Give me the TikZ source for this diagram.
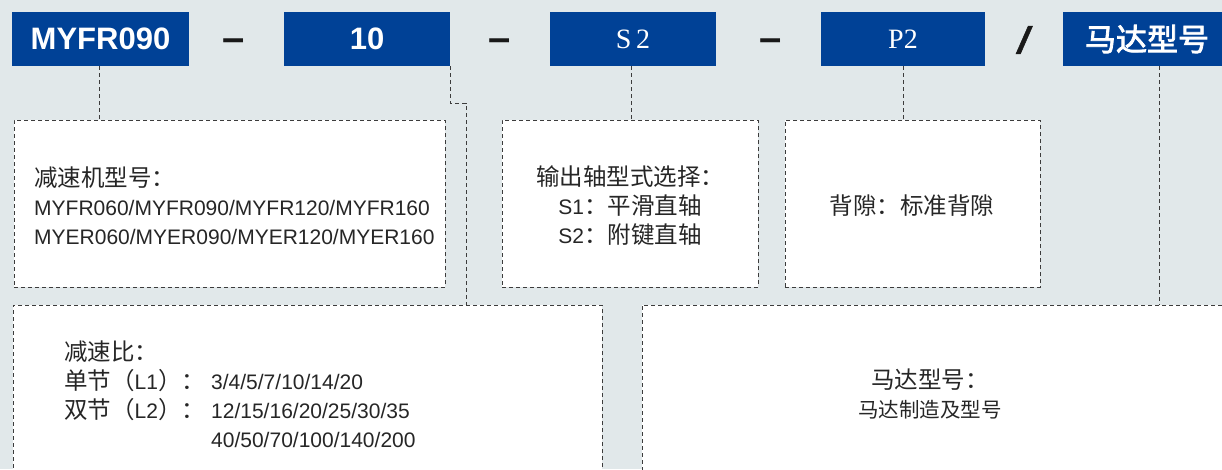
\documentclass[tikz,border=0pt]{standalone}
\usepackage{fontspec}
\setmainfont{Liberation Sans}
\newfontfamily\cjk[AutoFakeBold=2.5]{Noto Sans CJK SC}
\newfontfamily\romfont{Liberation Serif}
\newfontfamily\slashfont[BoldFeatures={FakeSlant=0.25, FakeBold=1.5}]{Liberation Sans}
\newcommand{\zh}[1]{{\cjk\fontsize{23.5}{29}\selectfont #1}}

\definecolor{bgcol}{RGB}{225,232,234}
\definecolor{codeblue}{RGB}{0,65,150}
\definecolor{lncol}{RGB}{60,60,60}

\tikzset{
	codebox/.style={fill=codeblue, text=white, minimum height=54pt, inner sep=0pt, font=\bfseries\fontsize{31}{32}\selectfont},
	sepmark/.style={inner sep=0pt, text=black!90, font=\bfseries\fontsize{40}{40}\selectfont},
	panel/.style={draw=lncol, fill=white, line width=0.8pt, dash pattern=on 4pt off 3pt, inner sep=0pt},
	guide/.style={draw=lncol, line width=0.8pt, dash pattern=on 4pt off 3pt},
	paneltext/.style={inner sep=0pt, text=black!85, font=\fontsize{21}{29}\selectfont}
}

\begin{document}
\begin{tikzpicture}[x=1pt, y=-1pt]
	\clip (0,0) rectangle (1222,469);
	\fill[bgcol] (0,0) rectangle (1222,469);

	% code line
	\node[codebox, minimum width=177pt] (b1) at (100.5,39) {MYFR090};
	\node[codebox, minimum width=166pt] (b2) at (367,39) {10};
	\node[codebox, minimum width=166pt, font=\romfont\fontsize{28}{30}\selectfont] (b3) at (633,39) {S\,2};
	\node[codebox, minimum width=164pt, font=\romfont\fontsize{28}{30}\selectfont] (b4) at (903,39) {P2};
	\node[codebox, minimum width=168pt, font=\cjk\bfseries\fontsize{31}{32}\selectfont] (b5) at (1147,39) {马达型号};

	\node[sepmark] (s1) at (234,45) {–};
	\node[sepmark] (s2) at (500,45) {–};
	\node[sepmark] (s3) at (771,45) {–};
	\node[sepmark, font=\slashfont\bfseries\fontsize{37}{37}\selectfont] (s4) at (1021,40) {/};

	% panels
	\node[panel, minimum width=431pt, minimum height=167pt] (pA) at (229.5,203.5) {};
	\node[panel, minimum width=256pt, minimum height=167pt] (pB) at (630,203.5) {};
	\node[panel, minimum width=255pt, minimum height=167pt] (pD) at (912.5,203.5) {};
	\node[panel, minimum width=589pt, minimum height=175pt] (pC) at (307.5,392.5) {};
	\node[panel, minimum width=598pt, minimum height=175pt] (pE) at (941,392.5) {};

	\node[paneltext, anchor=west, align=left] (tA) at (34,206)
		{\zh{减速机型号：}\\MYFR060/MYFR090/MYFR120/MYFR160\\MYER060/MYER090/MYER120/MYER160};
	\node[paneltext, align=center] (tB) at (630,206)
		{\zh{输出轴型式选择：}\\S1\zh{：平滑直轴}\\S2\zh{：附键直轴}};
	\node[paneltext] (tD) at (912,206) {\zh{背隙：标准背隙}};
	\node[paneltext, anchor=west, align=left] (tC) at (64,394)
		{\zh{减速比：}\\
		 \makebox[147pt][l]{\zh{单节（}L1\zh{）：}}3/4/5/7/10/14/20\\
		 \makebox[147pt][l]{\zh{双节（}L2\zh{）：}}12/15/16/20/25/30/35\\
		 \makebox[147pt][l]{}40/50/70/100/140/200};
	\node[paneltext, align=center] (tE) at (930,394)
		{\zh{马达型号：}\\{\cjk\fontsize{20.5}{20}\selectfont 马达制造及型号}};

	% guides
	\draw[guide] ([xshift=-1.5pt]b1.south) -- ([xshift=-1.5pt]b1.south |- pA.north);
	\coordinate (k1) at (466,103);
	\draw[guide] (b2.south east) |- (k1) -- (k1 |- pC.north);
	\draw[guide] ([xshift=-2pt]b3.south) -- ([xshift=-2pt]b3.south |- pB.north);
	\draw[guide] (b4.south) -- (b4.south |- pD.north);
	\draw[guide] ([xshift=12pt]b5.south) -- ([xshift=12pt]b5.south |- pE.north);
\end{tikzpicture}
\end{document}
